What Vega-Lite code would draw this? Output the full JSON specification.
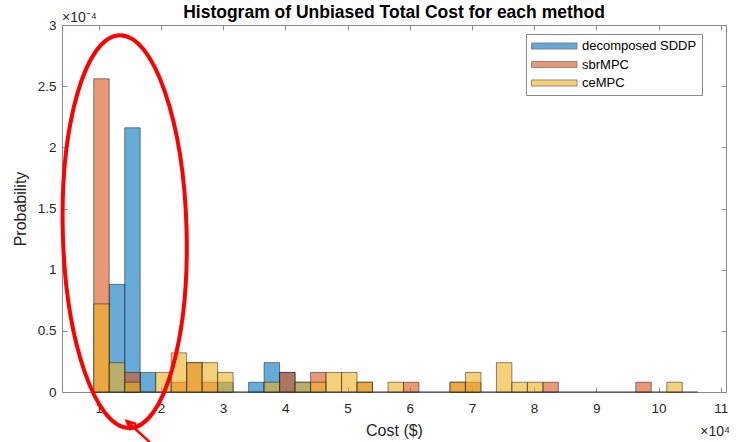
{
  "$schema": "https://vega.github.io/schema/vega-lite/v6.json",
  "width": 664,
  "height": 367,
  "autosize": {"type": "none"},
  "padding": {"left": 62, "top": 25, "right": 12, "bottom": 50},
  "background": "white",
  "config": {
    "font": "Liberation Sans",
    "view": {"stroke": null},
    "axis": {
      "grid": false,
      "labelFont": "Liberation Sans",
      "labelFontSize": 13.5,
      "labelColor": "#262626",
      "titleFont": "Liberation Sans",
      "titleFontSize": 16,
      "titleFontWeight": "normal",
      "titleColor": "#262626",
      "domainColor": "#8a8a8a",
      "tickColor": "#8a8a8a",
      "tickSize": -5
    }
  },
  "title": {
    "text": "Histogram of Unbiased Total Cost for each method",
    "fontSize": 17.5,
    "fontWeight": "bold",
    "color": "#000000",
    "font": "Liberation Sans",
    "anchor": "middle",
    "offset": 6,
    "dy": 16
  },
  "datasets": {
    "bars": [
      {"s": "decomposed SDDP", "x0": 11690, "x1": 14180, "p": 0.000088},
      {"s": "decomposed SDDP", "x0": 14180, "x1": 16670, "p": 0.000216},
      {"s": "decomposed SDDP", "x0": 16670, "x1": 19160, "p": 0.000016},
      {"s": "decomposed SDDP", "x0": 29120, "x1": 31610, "p": 0.000008},
      {"s": "decomposed SDDP", "x0": 34100, "x1": 36590, "p": 0.000008},
      {"s": "decomposed SDDP", "x0": 36590, "x1": 39080, "p": 0.000024},
      {"s": "decomposed SDDP", "x0": 39080, "x1": 41570, "p": 0.000016},
      {"s": "decomposed SDDP", "x0": 41570, "x1": 44060, "p": 0.000008},
      {"s": "sbrMPC", "x0": 9200, "x1": 11690, "p": 0.000256},
      {"s": "sbrMPC", "x0": 14180, "x1": 16670, "p": 0.000016},
      {"s": "sbrMPC", "x0": 21650, "x1": 24140, "p": 0.000008},
      {"s": "sbrMPC", "x0": 24140, "x1": 26630, "p": 0.000024},
      {"s": "sbrMPC", "x0": 26630, "x1": 29120, "p": 0.000008},
      {"s": "sbrMPC", "x0": 39080, "x1": 41570, "p": 0.000016},
      {"s": "sbrMPC", "x0": 44060, "x1": 46550, "p": 0.000016},
      {"s": "sbrMPC", "x0": 51530, "x1": 54020, "p": 0.000008},
      {"s": "sbrMPC", "x0": 59000, "x1": 61490, "p": 0.000008},
      {"s": "sbrMPC", "x0": 66470, "x1": 68960, "p": 0.000008},
      {"s": "sbrMPC", "x0": 68960, "x1": 71450, "p": 0.000008},
      {"s": "sbrMPC", "x0": 81410, "x1": 83900, "p": 0.000008},
      {"s": "sbrMPC", "x0": 96350, "x1": 98840, "p": 0.000008},
      {"s": "ceMPC", "x0": 9200, "x1": 11690, "p": 0.000072},
      {"s": "ceMPC", "x0": 11690, "x1": 14180, "p": 0.000024},
      {"s": "ceMPC", "x0": 14180, "x1": 16670, "p": 0.000008},
      {"s": "ceMPC", "x0": 19160, "x1": 21650, "p": 0.000016},
      {"s": "ceMPC", "x0": 21650, "x1": 24140, "p": 0.000032},
      {"s": "ceMPC", "x0": 24140, "x1": 26630, "p": 0.000024},
      {"s": "ceMPC", "x0": 26630, "x1": 29120, "p": 0.000024},
      {"s": "ceMPC", "x0": 29120, "x1": 31610, "p": 0.000016},
      {"s": "ceMPC", "x0": 36590, "x1": 39080, "p": 0.000008},
      {"s": "ceMPC", "x0": 41570, "x1": 44060, "p": 0.000008},
      {"s": "ceMPC", "x0": 44060, "x1": 46550, "p": 0.000008},
      {"s": "ceMPC", "x0": 46550, "x1": 49040, "p": 0.000016},
      {"s": "ceMPC", "x0": 49040, "x1": 51530, "p": 0.000016},
      {"s": "ceMPC", "x0": 51530, "x1": 54020, "p": 0.000008},
      {"s": "ceMPC", "x0": 56510, "x1": 59000, "p": 0.000008},
      {"s": "ceMPC", "x0": 66470, "x1": 68960, "p": 0.000008},
      {"s": "ceMPC", "x0": 68960, "x1": 71450, "p": 0.000016},
      {"s": "ceMPC", "x0": 73940, "x1": 76430, "p": 0.000024},
      {"s": "ceMPC", "x0": 76430, "x1": 78920, "p": 0.000008},
      {"s": "ceMPC", "x0": 78920, "x1": 81410, "p": 0.000008},
      {"s": "ceMPC", "x0": 101330, "x1": 103820, "p": 0.000008}
    ]
  },
  "layer": [
    {
      "data": {"name": "bars"},
      "mark": {"type": "bar", "opacity": 0},
      "encoding": {
        "x": {"field": "x0", "type": "quantitative",
          "scale": {"domain": [4100, 110850], "nice": false, "zero": false},
          "axis": {"orient": "top", "labels": false, "title": null,
            "values": [10000, 20000, 30000, 40000, 50000, 60000, 70000, 80000, 90000, 100000, 110000]}},
        "x2": {"field": "x1"},
        "y": {"field": "p", "type": "quantitative", "stack": null,
          "scale": {"domain": [0, 0.0003], "nice": false},
          "axis": {"orient": "right", "labels": false, "title": null,
            "values": [0, 0.00005, 0.0001, 0.00015, 0.0002, 0.00025, 0.0003]}},
        "y2": {"datum": 0}
      }
    },
    {
      "data": {"values": [{}]},
      "mark": {"type": "rule", "color": "#333333", "strokeWidth": 1},
      "encoding": {
        "x": {"datum": 9200, "type": "quantitative", "axis": null},
        "x2": {"datum": 106310},
        "y": {"datum": 0, "type": "quantitative", "axis": null}
      }
    },
    {
      "data": {"name": "bars"},
      "mark": {"type": "bar", "fillOpacity": 0.6, "stroke": "#1a1a1a", "strokeWidth": 0.6, "strokeOpacity": 0.85},
      "encoding": {
        "x": {"field": "x0", "type": "quantitative",
          "axis": {"orient": "bottom", "title": "Cost ($)", "titlePadding": 8, "labelPadding": 14,
            "values": [10000, 20000, 30000, 40000, 50000, 60000, 70000, 80000, 90000, 100000, 110000],
            "labelExpr": "'' + round(datum.value / 10000)"}},
        "x2": {"field": "x1"},
        "y": {"field": "p", "type": "quantitative", "stack": null,
          "axis": {"orient": "left", "title": "Probability", "titlePadding": 9, "labelPadding": 11,
            "values": [0, 0.00005, 0.0001, 0.00015, 0.0002, 0.00025, 0.0003],
            "labelExpr": "'' + round(datum.value * 100000) / 10"}},
        "y2": {"datum": 0},
        "color": {"field": "s", "type": "nominal",
          "scale": {"domain": ["decomposed SDDP", "sbrMPC", "ceMPC"], "range": ["#0072BD", "#D95319", "#EDB120"]},
          "legend": {
            "title": null, "orient": "none", "legendX": 464, "legendY": 9,
            "fillColor": "white", "strokeColor": "#8a8a8a", "padding": 5,
            "symbolType": "M-1,-0.47H6V0.47H-1Z", "symbolSize": 169,
            "symbolOpacity": 0.6, "symbolStrokeColor": "#1a1a1a", "symbolStrokeWidth": 0.8,
            "labelFont": "Liberation Sans", "labelFontSize": 13, "labelColor": "#000000",
            "labelOffset": 37, "rowPadding": 4.5
          }}
      }
    },
    {
      "data": {"values": [{}]},
      "mark": {"type": "text", "align": "left", "baseline": "alphabetic", "dy": -3, "fontSize": 14, "color": "#262626", "font": "Liberation Sans"},
      "encoding": {
        "x": {"datum": 4100, "type": "quantitative", "axis": null},
        "y": {"datum": 0.0003, "type": "quantitative", "axis": null},
        "text": {"value": "×10⁻⁴"}
      }
    },
    {
      "data": {"values": [{}]},
      "mark": {"type": "text", "align": "right", "baseline": "middle", "dy": 40, "dx": 4, "fontSize": 14, "color": "#262626", "font": "Liberation Sans"},
      "encoding": {
        "x": {"datum": 110850, "type": "quantitative", "axis": null},
        "y": {"datum": 0, "type": "quantitative", "axis": null},
        "text": {"value": "×10⁴"}
      }
    },
    {
      "data": {"values": [{}]},
      "mark": {"type": "point", "shape": "M0,-1C0.174,-1,0.315,-0.552,0.315,0C0.315,0.552,0.174,1,0,1C-0.174,1,-0.315,0.552,-0.315,0C-0.315,-0.552,-0.174,-1,0,-1Z",
        "size": 154449, "filled": false, "stroke": "#ff0000", "strokeWidth": 4, "opacity": 1, "angle": -1.5, "clip": false},
      "encoding": {
        "x": {"datum": 14180, "type": "quantitative", "axis": null},
        "y": {"datum": 0.0001311, "type": "quantitative", "axis": null}
      }
    },
    {
      "data": {"values": [{}]},
      "mark": {"type": "point", "shape": "M0.72,0.66L-0.72,-0.66M-0.48,-0.08L-0.72,-0.66L-0.12,-0.47",
        "size": 1024, "filled": false, "stroke": "#ff0000", "strokeWidth": 2.5, "opacity": 1, "clip": false},
      "encoding": {
        "x": {"datum": 16350, "type": "quantitative", "axis": null},
        "y": {"datum": -0.0000323, "type": "quantitative", "axis": null}
      }
    }
  ],
  "resolve": {"axis": {"x": "independent", "y": "independent"}}
}
